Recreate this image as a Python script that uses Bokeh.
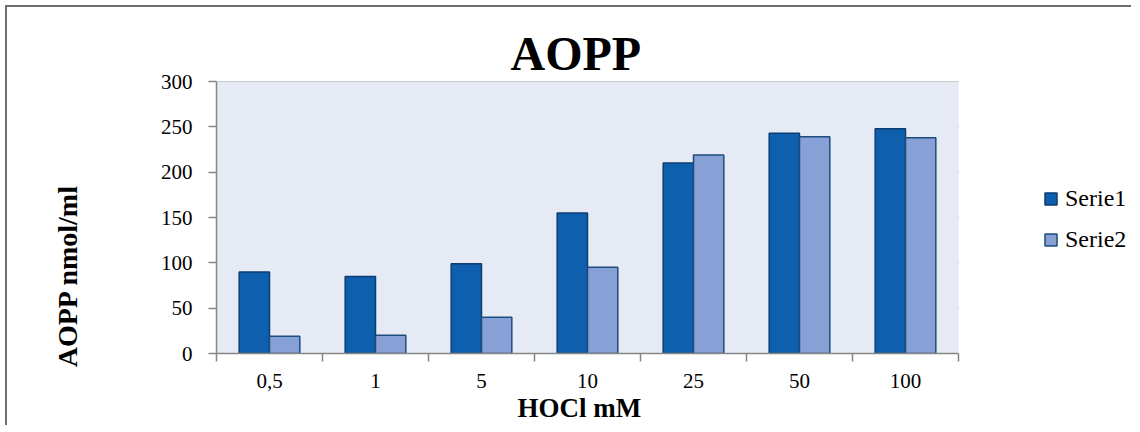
from bokeh.plotting import figure
from bokeh.models import (FixedTicker, Legend, LegendItem, Title, Range1d,
                          ColumnDataSource, BoxAnnotation)
from bokeh.embed import file_html
from bokeh.resources import INLINE

categories = ["0,5", "1", "5", "10", "25", "50", "100"]
serie1 = [90, 85, 99, 155, 210, 243, 248]
serie2 = [19, 20, 40, 95, 219, 239, 238]
series_names = ["Serie1", "Serie2"]
y_ticks = [0, 50, 100, 150, 200, 250, 300]
chart_title = "AOPP"
x_title = "HOCl mM"
y_title = "AOPP nmol/ml"

FONT = "Liberation Serif"
GRID = "#868686"
PLOT_BG = "#E6EAF5"
C1, C1_LINE = "#0E5FAE", "#0B3C72"
C2, C2_LINE = "#87A1D6", "#1D4C7E"

n = len(categories)
centers = [i + 0.5 for i in range(n)]
bw = 0.286

# frame: the category area (n units = 742 px) plus room on the right for the legend
FRAME_W, FRAME_H = 917, 272
x_end = FRAME_W * n / 742.0

src = ColumnDataSource(dict(
    x1=[c - bw / 2 for c in centers],
    x2=[c + bw / 2 for c in centers],
    s1=serie1, s2=serie2,
))

p = figure(frame_width=FRAME_W, frame_height=FRAME_H,
           x_range=Range1d(0, x_end), y_range=Range1d(y_ticks[0], y_ticks[-1]),
           output_backend="svg", toolbar_location=None,
           min_border_left=209, min_border_right=0,
           min_border_top=74, min_border_bottom=74,
           background_fill_color="white", border_fill_color="white",
           outline_line_color=None)
p.styles = {"margin": "7px 0px 0px 7px",
            "box-shadow": "-2px -2px 0px 0px #6e6e6e"}

# plot-area background and horizontal grid lines, limited to the category area
p.add_layout(BoxAnnotation(left=0, right=n, bottom=y_ticks[0], top=y_ticks[-1],
                           fill_color=PLOT_BG, fill_alpha=1, line_color=None,
                           level="underlay"))
p.segment(x0=[0] * (len(y_ticks) - 1), x1=[n] * (len(y_ticks) - 1),
          y0=y_ticks[1:], y1=y_ticks[1:], line_color=GRID, line_width=1.5,
          level="underlay")

r1 = p.vbar(x="x1", top="s1", width=bw, bottom=0, source=src,
            fill_color=C1, line_color=C1_LINE, line_width=1.5)
r2 = p.vbar(x="x2", top="s2", width=bw, bottom=0, source=src,
            fill_color=C2, line_color=C2_LINE, line_width=1.5)

# title
p.title.text = chart_title
p.title.align = "left"
p.title.offset = 294
p.title.text_font = FONT
p.title.text_font_style = "bold"
p.title.text_font_size = "48px"
p.title.text_color = "black"
p.title.standoff = 4

# x axis
xa = p.xaxis[0]
xa.bounds = (0, n)
xa.ticker = FixedTicker(ticks=centers, minor_ticks=list(range(n + 1)))
xa.major_label_overrides = {c: lab for c, lab in zip(centers, categories)}
xa.major_tick_line_color = None
xa.major_tick_out = 8
xa.minor_tick_out = 8
xa.minor_tick_in = 0
xa.minor_tick_line_color = GRID
xa.minor_tick_line_width = 1.5
xa.axis_line_color = GRID
xa.axis_line_width = 1.5
xa.major_label_text_font = FONT
xa.major_label_text_font_size = "21px"
xa.major_label_text_color = "black"
xa.major_label_standoff = 12

p.add_layout(Title(text=x_title, align="left", offset=301, standoff=0,
                   text_font=FONT, text_font_style="bold",
                   text_font_size="27px", text_color="black"), "below")

# y axis (a blank axis label acts as a spacer that pushes the title outward)
ya = p.yaxis[0]
ya.ticker = FixedTicker(ticks=y_ticks, minor_ticks=[])
ya.major_tick_out = 8
ya.major_tick_in = 0
ya.major_tick_line_color = GRID
ya.major_tick_line_width = 1.5
ya.minor_tick_line_color = None
ya.axis_line_color = GRID
ya.axis_line_width = 1.5
ya.major_label_text_font = FONT
ya.major_label_text_font_size = "21px"
ya.major_label_text_color = "black"
ya.major_label_standoff = 16
ya.axis_label = " "
ya.axis_label_text_font_size = "1px"
ya.axis_label_standoff = 66

p.xgrid.grid_line_color = None
p.ygrid.grid_line_color = None

# y axis title, placed like the original (lower than the frame centre)
p.add_layout(Title(text=y_title, align="right", offset=103, standoff=10,
                   text_font=FONT, text_font_style="bold",
                   text_font_size="28px", text_color="black"), "left")

legend = Legend(items=[LegendItem(label=series_names[0], renderers=[r1]),
                       LegendItem(label=series_names[1], renderers=[r2])],
                location=(827, 100), orientation="vertical",
                border_line_color=None, background_fill_color=None,
                glyph_width=15, glyph_height=15, label_standoff=7,
                label_text_font=FONT, label_text_font_size="24px",
                label_text_color="black", spacing=14, padding=0, margin=0)
p.add_layout(legend, "center")

open("out.html", "w").write(file_html(p, INLINE))
